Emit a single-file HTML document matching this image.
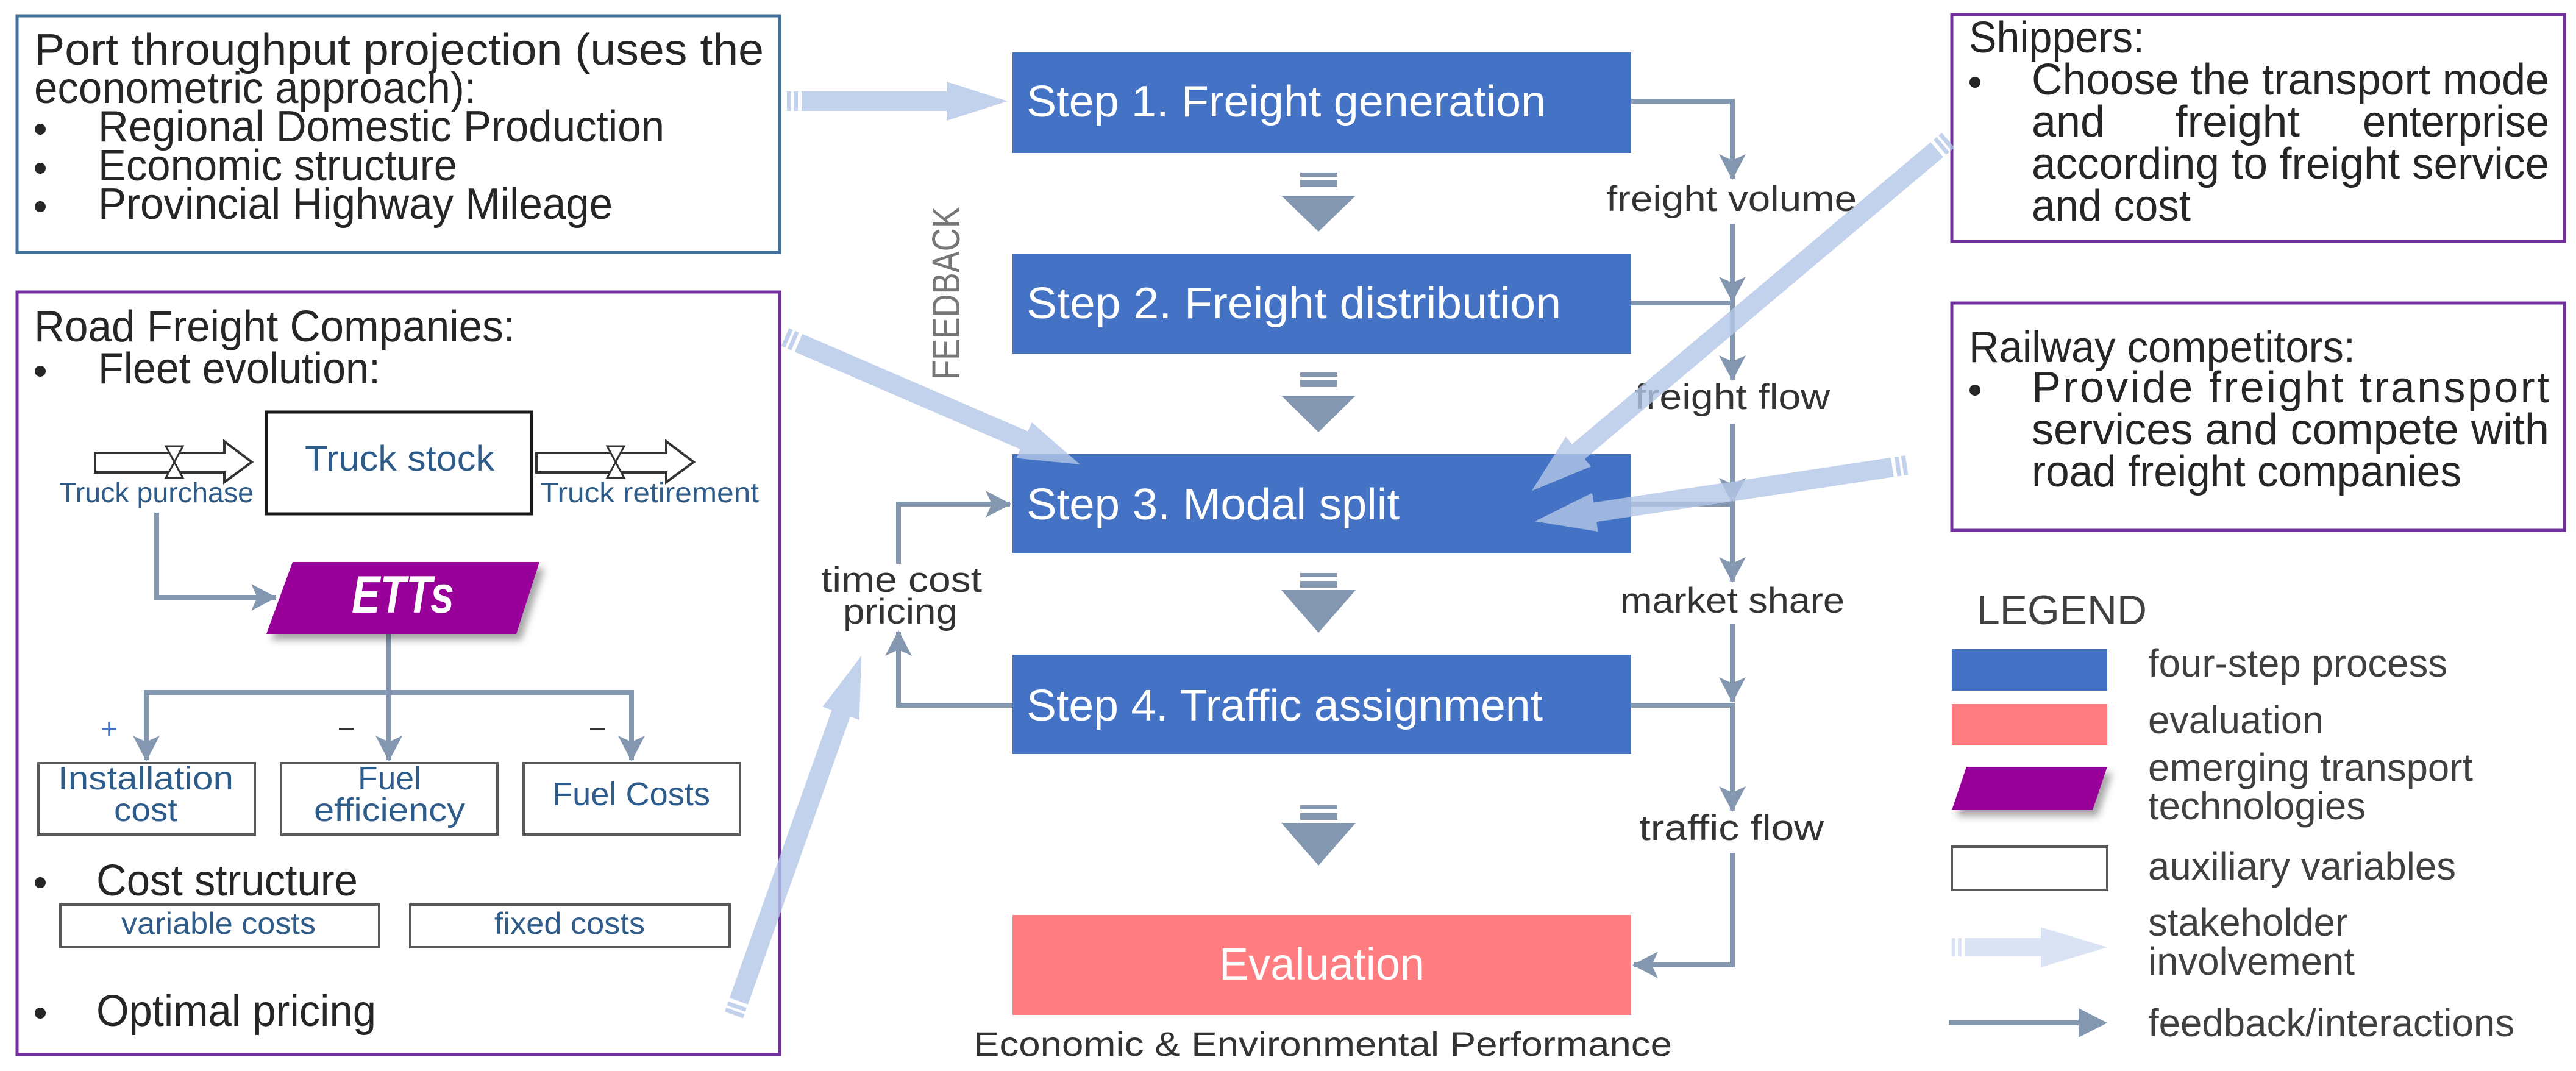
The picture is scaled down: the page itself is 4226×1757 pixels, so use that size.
<!DOCTYPE html>
<html><head><meta charset="utf-8"><style>
html,body{margin:0;padding:0;background:#fff;}
svg{display:block;}
text{font-family:"Liberation Sans",sans-serif;}
</style></head><body>
<svg width="4226" height="1757" viewBox="0 0 4226 1757" xmlns="http://www.w3.org/2000/svg">
<defs>
<marker id="ah" markerUnits="userSpaceOnUse" markerWidth="44" markerHeight="48" refX="40" refY="24" orient="auto">
<path d="M0,2 L42,24 L0,46 L10,24 Z" fill="#8497b0"/>
</marker>
<filter id="sh" x="-10%" y="-10%" width="130%" height="140%"><feDropShadow dx="8" dy="10" stdDeviation="6" flood-color="#000" flood-opacity="0.35"/></filter>
</defs>

<!-- Top-left box -->
<rect x="28" y="26" width="1251" height="388" fill="#fff" stroke="#41719c" stroke-width="5"/>
<g fill="#262626" font-size="72">
<text x="56" y="106" textLength="1197" lengthAdjust="spacingAndGlyphs">Port throughput projection (uses the</text>
<text x="56" y="169" textLength="725" lengthAdjust="spacingAndGlyphs">econometric approach):</text>
<circle cx="66" cy="212" r="9"/><circle cx="66" cy="276" r="9"/><circle cx="66" cy="339" r="9"/>
<text x="161" y="232" textLength="929" lengthAdjust="spacingAndGlyphs">Regional Domestic Production</text>
<text x="161" y="296" textLength="589" lengthAdjust="spacingAndGlyphs">Economic structure</text>
<text x="161" y="359" textLength="844" lengthAdjust="spacingAndGlyphs">Provincial Highway Mileage</text>
</g>

<!-- Bottom-left box -->
<rect x="28" y="479" width="1251" height="1251" fill="#fff" stroke="#7030a0" stroke-width="5"/>
<g fill="#262626" font-size="72">
<text x="56" y="560" textLength="789" lengthAdjust="spacingAndGlyphs">Road Freight Companies:</text>
<circle cx="66" cy="609" r="9"/>
<text x="161" y="629" textLength="463" lengthAdjust="spacingAndGlyphs">Fleet evolution:</text>
<circle cx="66" cy="1448" r="9"/>
<text x="158" y="1469" textLength="429" lengthAdjust="spacingAndGlyphs">Cost structure</text>
<circle cx="66" cy="1662" r="9"/>
<text x="158" y="1683" textLength="459" lengthAdjust="spacingAndGlyphs">Optimal pricing</text>
</g>

<!-- Fleet flow -->
<rect x="437" y="676" width="435" height="167" fill="#fff" stroke="#1a1a1a" stroke-width="5"/>
<text x="500" y="772" font-size="58" fill="#2e5c8a" textLength="311" lengthAdjust="spacingAndGlyphs">Truck stock</text>
<path d="M156,743 L368,743 L368,724 L413,758 L368,791 L368,775 L156,775 Z" fill="#fff" stroke="#333" stroke-width="4"/>
<path d="M272,732 L300,732 L272,784 L300,784 Z" fill="#fff" stroke="#333" stroke-width="3"/>
<path d="M880,743 L1093,743 L1093,724 L1138,758 L1093,791 L1093,775 L880,775 Z" fill="#fff" stroke="#333" stroke-width="4"/>
<path d="M996,732 L1024,732 L996,784 L1024,784 Z" fill="#fff" stroke="#333" stroke-width="3"/>
<text x="97" y="824" font-size="46" fill="#2e5c8a" textLength="319" lengthAdjust="spacingAndGlyphs">Truck purchase</text>
<text x="886" y="824" font-size="46" fill="#2e5c8a" textLength="359" lengthAdjust="spacingAndGlyphs">Truck retirement</text>

<!-- ETTs connectors -->
<g fill="none" stroke="#8497b0" stroke-width="8">
<path d="M257,841 L257,980 L452,980" marker-end="url(#ah)"/>
<path d="M638,1040 L638,1247" marker-end="url(#ah)"/>
<path d="M240,1247 L240,1136 L1036,1136 L1036,1247" />
<path d="M240,1200 L240,1247" marker-end="url(#ah)"/>
<path d="M1036,1200 L1036,1247" marker-end="url(#ah)"/>
</g>
<polygon points="480,922 885,922 847,1040 437,1040" fill="#990099" filter="url(#sh)"/>
<text x="577" y="1005" font-size="86" font-weight="bold" font-style="italic" fill="#fff" textLength="168" lengthAdjust="spacingAndGlyphs">ETTs</text>
<text x="179" y="1212" font-size="48" fill="#4472c4" text-anchor="middle">+</text>
<rect x="556" y="1194" width="24" height="3" fill="#333"/>
<rect x="968" y="1194" width="24" height="3" fill="#333"/>

<g fill="#fff" stroke="#595959" stroke-width="4">
<rect x="63" y="1252" width="355" height="117"/>
<rect x="461" y="1252" width="355" height="117"/>
<rect x="859" y="1252" width="355" height="117"/>
<rect x="99" y="1484" width="523" height="70"/>
<rect x="673" y="1484" width="524" height="70"/>
</g>
<g fill="#2e5c8a" font-size="54">
<text x="95" y="1295" textLength="288" lengthAdjust="spacingAndGlyphs">Installation</text>
<text x="187" y="1347" textLength="104" lengthAdjust="spacingAndGlyphs">cost</text>
<text x="587" y="1295" textLength="104" lengthAdjust="spacingAndGlyphs">Fuel</text>
<text x="515" y="1347" textLength="248" lengthAdjust="spacingAndGlyphs">efficiency</text>
<text x="906" y="1321" textLength="259" lengthAdjust="spacingAndGlyphs">Fuel Costs</text>
<text x="199" y="1532" font-size="50" textLength="319" lengthAdjust="spacingAndGlyphs">variable costs</text>
<text x="811" y="1532" font-size="50" textLength="247" lengthAdjust="spacingAndGlyphs">fixed costs</text>
</g>

<!-- Steps -->
<g fill="#4472c4">
<rect x="1661" y="86" width="1015" height="165"/>
<rect x="1661" y="416" width="1015" height="164"/>
<rect x="1661" y="745" width="1015" height="163"/>
<rect x="1661" y="1074" width="1015" height="163"/>
</g>
<rect x="1661" y="1501" width="1015" height="164" fill="#ff7c80"/>
<g fill="#fff" font-size="72">
<text x="1684" y="191" textLength="852" lengthAdjust="spacingAndGlyphs">Step 1. Freight generation</text>
<text x="1684" y="522" textLength="877" lengthAdjust="spacingAndGlyphs">Step 2. Freight distribution</text>
<text x="1684" y="852" textLength="612" lengthAdjust="spacingAndGlyphs">Step 3. Modal split</text>
<text x="1684" y="1182" textLength="847" lengthAdjust="spacingAndGlyphs">Step 4. Traffic assignment</text>
<text x="2000" y="1607" font-size="74" textLength="337" lengthAdjust="spacingAndGlyphs">Evaluation</text>
</g>
<text x="1597" y="1732" font-size="56" fill="#333" textLength="1146" lengthAdjust="spacingAndGlyphs">Economic &amp; Environmental Performance</text>

<!-- Block down arrows -->
<g fill="#8497b0">
<rect x="2133" y="283" width="61" height="7"/><rect x="2133" y="296" width="61" height="11"/><polygon points="2102,321 2224,321 2163,380"/>
<rect x="2133" y="611" width="61" height="7"/><rect x="2133" y="624" width="61" height="11"/><polygon points="2102,649 2224,649 2163,709"/>
<rect x="2133" y="940" width="61" height="7"/><rect x="2133" y="953" width="61" height="11"/><polygon points="2102,968 2224,968 2163,1038"/>
<rect x="2133" y="1321" width="61" height="7"/><rect x="2133" y="1334" width="61" height="11"/><polygon points="2102,1350 2224,1350 2163,1420"/>
</g>

<!-- FEEDBACK -->
<text transform="translate(1574,623) rotate(-90)" font-size="64" fill="#777" textLength="284" lengthAdjust="spacingAndGlyphs">FEEDBACK</text>

<!-- Right connectors -->
<g fill="none" stroke="#8497b0" stroke-width="8">
<path d="M2676,166 L2842,166 L2842,293" marker-end="url(#ah)"/>
<path d="M2842,367 L2842,494" marker-end="url(#ah)"/>
<path d="M2676,497 L2842,497 L2842,623" marker-end="url(#ah)"/>
<path d="M2842,695 L2842,824" marker-end="url(#ah)"/>
<path d="M2676,827 L2842,827 L2842,954" marker-end="url(#ah)"/>
<path d="M2842,1024 L2842,1151" marker-end="url(#ah)"/>
<path d="M2676,1157 L2842,1157 L2842,1330" marker-end="url(#ah)"/>
<path d="M2842,1399 L2842,1583 L2680,1583" marker-end="url(#ah)"/>
<path d="M1474,925 L1474,827 L1657,827" marker-end="url(#ah)"/>
<path d="M1661,1157 L1474,1157 L1474,1036" marker-end="url(#ah)"/>
</g>
<g fill="#333" font-size="58">
<text x="2635" y="346" textLength="411" lengthAdjust="spacingAndGlyphs">freight volume</text>
<text x="2682" y="671" textLength="320" lengthAdjust="spacingAndGlyphs">freight flow</text>
<text x="2658" y="1005" textLength="368" lengthAdjust="spacingAndGlyphs">market share</text>
<text x="2689" y="1378" textLength="303" lengthAdjust="spacingAndGlyphs">traffic flow</text>
<text x="1347" y="971" textLength="264" lengthAdjust="spacingAndGlyphs">time cost</text>
<text x="1383" y="1023" textLength="188" lengthAdjust="spacingAndGlyphs">pricing</text>
</g>

<!-- Right boxes -->
<rect x="3202" y="24" width="1005" height="372" fill="#fff" stroke="#7030a0" stroke-width="5"/>
<rect x="3202" y="497" width="1005" height="373" fill="#fff" stroke="#7030a0" stroke-width="5"/>
<g fill="#262626" font-size="72">
<text x="3230" y="86" textLength="288" lengthAdjust="spacingAndGlyphs">Shippers:</text>
<circle cx="3240" cy="135" r="9"/>
<text x="3333" y="155" textLength="849" lengthAdjust="spacingAndGlyphs">Choose the transport mode</text>
<text x="3333" y="224" textLength="120" lengthAdjust="spacingAndGlyphs">and</text>
<text x="3568" y="224" textLength="205" lengthAdjust="spacingAndGlyphs">freight</text>
<text x="3876" y="224" textLength="306" lengthAdjust="spacingAndGlyphs">enterprise</text>
<text x="3333" y="293" textLength="849" lengthAdjust="spacingAndGlyphs">according to freight service</text>
<text x="3333" y="362" textLength="261" lengthAdjust="spacingAndGlyphs">and cost</text>
<text x="3230" y="594" textLength="634" lengthAdjust="spacingAndGlyphs">Railway competitors:</text>
<circle cx="3240" cy="640" r="9"/>
<text x="3333" y="660" textLength="849" lengthAdjust="spacing">Provide freight transport</text>
<text x="3333" y="729" textLength="849" lengthAdjust="spacingAndGlyphs">services and compete with</text>
<text x="3333" y="798" textLength="705" lengthAdjust="spacingAndGlyphs">road freight companies</text>
</g>

<!-- Legend -->
<text x="3243" y="1024" font-size="68" fill="#404040" textLength="279" lengthAdjust="spacingAndGlyphs">LEGEND</text>
<rect x="3202" y="1065" width="255" height="68" fill="#4472c4"/>
<rect x="3202" y="1155" width="255" height="68" fill="#ff7c80"/>
<polygon points="3226,1258 3457,1258 3433,1329 3202,1329" fill="#990099" filter="url(#sh)"/>
<rect x="3202" y="1389" width="255" height="71" fill="#fff" stroke="#595959" stroke-width="4"/>
<g fill="#dae3f3">
<rect x="3202" y="1539" width="6" height="30"/><rect x="3212" y="1539" width="6" height="30"/>
<polygon points="3224,1539 3348,1539 3348,1521 3457,1554 3348,1587 3348,1569 3224,1569"/>
</g>
<line x1="3197" y1="1678" x2="3420" y2="1678" stroke="#8497b0" stroke-width="8"/>
<polygon points="3410,1654 3457,1678 3410,1702" fill="#8497b0"/>
<g fill="#404040" font-size="64">
<text x="3524" y="1110" textLength="491" lengthAdjust="spacingAndGlyphs">four-step process</text>
<text x="3524" y="1203" textLength="288" lengthAdjust="spacingAndGlyphs">evaluation</text>
<text x="3524" y="1281" textLength="533" lengthAdjust="spacingAndGlyphs">emerging transport</text>
<text x="3524" y="1344" textLength="357" lengthAdjust="spacingAndGlyphs">technologies</text>
<text x="3524" y="1443" textLength="505" lengthAdjust="spacingAndGlyphs">auxiliary variables</text>
<text x="3524" y="1535" textLength="328" lengthAdjust="spacingAndGlyphs">stakeholder</text>
<text x="3524" y="1599" textLength="339" lengthAdjust="spacingAndGlyphs">involvement</text>
<text x="3524" y="1700" textLength="601" lengthAdjust="spacingAndGlyphs">feedback/interactions</text>
</g>

<!-- Stakeholder arrows -->
<g fill="#b4c7e7" fill-opacity="0.8">
<g transform="translate(1291,166) rotate(0)">
<rect x="0" y="-16" width="7" height="32"/><rect x="11" y="-16" width="7" height="32"/>
<polygon points="24,-16 262,-16 262,-32 362,0 262,32 262,16 24,16"/>
</g>
<g transform="translate(1288,553) rotate(23.35)">
<rect x="0" y="-16" width="7" height="32"/><rect x="11" y="-16" width="7" height="32"/>
<polygon points="24,-16 427,-16 427,-32 527,0 427,32 427,16 24,16"/>
</g>
<g transform="translate(3196,230) rotate(139.9)">
<rect x="0" y="-16" width="7" height="32"/><rect x="11" y="-16" width="7" height="32"/>
<polygon points="24,-16 793,-16 793,-32 893,0 793,32 793,16 24,16"/>
</g>
<g transform="translate(3128,763) rotate(171.4)">
<rect x="0" y="-16" width="7" height="32"/><rect x="11" y="-16" width="7" height="32"/>
<polygon points="24,-16 517,-16 517,-32 617,0 517,32 517,16 24,16"/>
</g>
<g transform="translate(1204,1665) rotate(-70.46)">
<rect x="0" y="-16" width="7" height="32"/><rect x="11" y="-16" width="7" height="32"/>
<polygon points="24,-16 525,-16 525,-32 625,0 525,32 525,16 24,16"/>
</g>
</g>
</svg>
</body></html>
